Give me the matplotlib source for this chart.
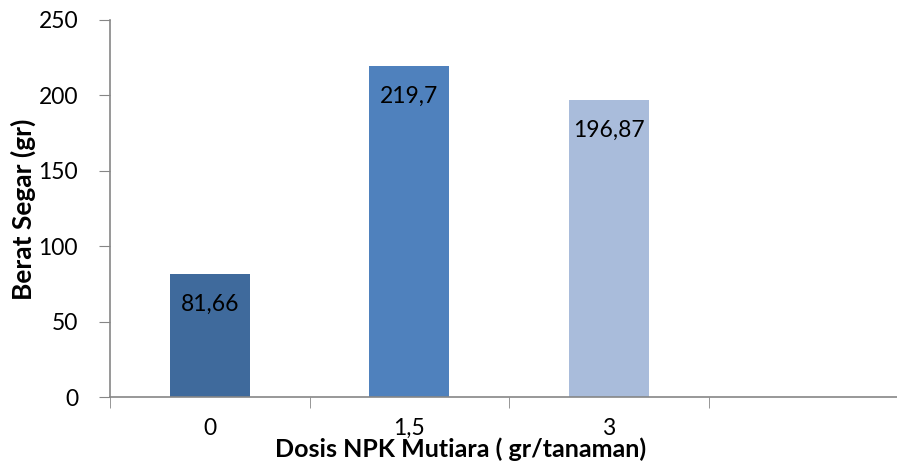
import matplotlib.pyplot as plt
from matplotlib.ticker import FixedLocator

# Daten
dosis = ["0", "1,5", "3"]
berat = [81.66, 219.7, 196.87]
labels = ["81,66", "219,7", "196,87"]
warna = ["#3F6A9C", "#4F81BD", "#A9BCDB"]

plt.rcParams['font.family'] = ['Lato', 'DejaVu Sans']

fig = plt.figure(figsize=(8.97, 4.63), dpi=100)
ax = fig.add_axes([110 / 897, 66 / 463, 798 / 897, 377 / 463])

x = range(len(dosis))
bars = ax.bar(x, berat, width=0.4, color=warna)

# Werte in die Balken schreiben
for b, t in zip(bars, labels):
    ax.text(b.get_x() + b.get_width() / 2, b.get_height() - 20, t,
            ha="center", va="center", fontsize=16.5, color="black")

ax.set_xlim(-0.5, 3.5)
ax.set_ylim(0, 250)
ax.set_yticks([0, 50, 100, 150, 200, 250])

ax.set_xticks(list(x))
ax.set_xticklabels(dosis, fontsize=16.5)
ax.xaxis.set_minor_locator(FixedLocator([-0.5, 0.5, 1.5, 2.5, 3.5]))
ax.tick_params(axis="x", which="major", length=0, pad=15)
ax.tick_params(axis="x", which="minor", length=8, color="#868686", direction="out")
ax.tick_params(axis="y", length=8, color="#868686", labelsize=16.5, pad=15)

for s in ["top", "right"]:
    ax.spines[s].set_visible(False)
for s in ["left", "bottom"]:
    ax.spines[s].set_color("#868686")
    ax.spines[s].set_linewidth(1.2)

ax.set_xlabel("Dosis NPK Mutiara ( gr/tanaman)", fontsize=18, fontweight="bold", va="center")
ax.xaxis.set_label_coords(0.439, -0.138)
ax.set_ylabel("Berat Segar (gr)", fontsize=19, fontweight="bold", va="center")
ax.yaxis.set_label_coords(-0.108, 0.499)

plt.savefig("out.png", dpi=100)
